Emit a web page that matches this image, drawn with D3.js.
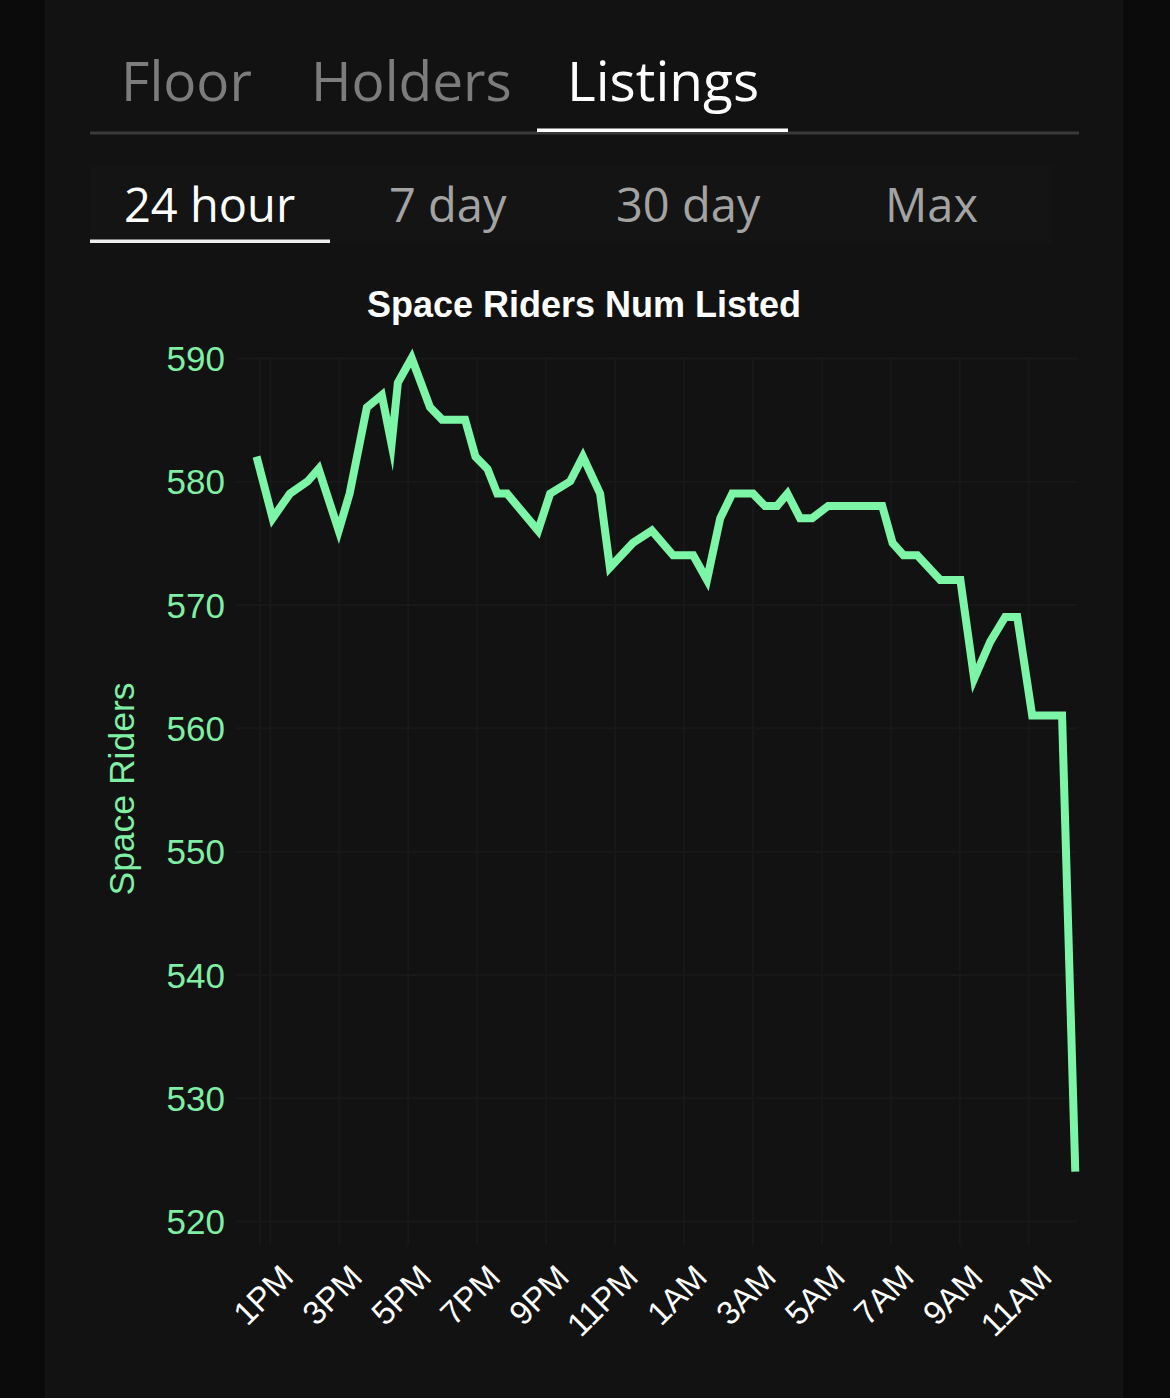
<!DOCTYPE html>
<html>
<head>
<meta charset="utf-8">
<script src="https://cdn.jsdelivr.net/npm/d3@7"></script>
<style>
  html, body { margin: 0; padding: 0; background: #0b0b0b; }
  svg { display: block; }
</style>
</head>
<body>
<div id="chart"></div>
<script>
// ---- data ----
const tabs = ['Floor', 'Holders', 'Listings'];
const ranges = ['24 hour', '7 day', '30 day', 'Max'];
const chartTitle = 'Space Riders Num Listed';
const yTitle = 'Space Riders';

const times = [
    '03-01 12:37', '03-01 13:05', '03-01 13:35', '03-01 14:06', '03-01 14:25',
    '03-01 15:00', '03-01 15:19', '03-01 15:49', '03-01 16:15', '03-01 16:32',
    '03-01 16:43', '03-01 17:07', '03-01 17:39', '03-01 18:00', '03-01 18:40',
    '03-01 18:58', '03-01 19:19', '03-01 19:36', '03-01 19:53', '03-01 20:47',
    '03-01 21:08', '03-01 21:43', '03-01 22:05', '03-01 22:35', '03-01 22:52',
    '03-01 23:32', '03-02 00:05', '03-02 00:42', '03-02 01:17', '03-02 01:41',
    '03-02 02:04', '03-02 02:25', '03-02 03:01', '03-02 03:22', '03-02 03:43',
    '03-02 04:01', '03-02 04:23', '03-02 04:44', '03-02 05:12', '03-02 06:46',
    '03-02 07:04', '03-02 07:23', '03-02 07:47', '03-02 08:27', '03-02 09:02',
    '03-02 09:26', '03-02 09:54', '03-02 10:20', '03-02 10:41', '03-02 11:07',
    '03-02 11:59', '03-02 12:22'
];
const listed = [
    582, 577, 579, 580, 581,
    576, 579, 586, 587, 583,
    588, 590, 586, 585, 585,
    582, 581, 579, 579, 576,
    579, 580, 582, 579, 573,
    575, 576, 574, 574, 572,
    577, 579, 579, 578, 578,
    579, 577, 577, 578, 578,
    575, 574, 574, 572, 572,
    564, 567, 569, 569, 561,
    561, 524
];

const yTicks = [520, 530, 540, 550, 560, 570, 580, 590];
const xTickTimes = [
    '03-01 13:00', '03-01 15:00', '03-01 17:00', '03-01 19:00', '03-01 21:00', '03-01 23:00',
    '03-02 01:00', '03-02 03:00', '03-02 05:00', '03-02 07:00', '03-02 09:00', '03-02 11:00'
];
const xTickLabels = ['1PM', '3PM', '5PM', '7PM', '9PM', '11PM', '1AM', '3AM', '5AM', '7AM', '9AM', '11AM'];
const xDomain = ['03-01 12:43', '03-02 12:25'];

const parseTime = d3.timeParse('%m-%d %H:%M');

class LineChart {
    constructor(_config, _data) {
        this.config = {
            parentElement: _config.parentElement,
            containerWidth: 1170,
            containerHeight: 1398,
            plot: { left: 260, right: 1077, top: 358, bottom: 1221 },
            tickLength: 24,
            lineColor: '#7df5a7',
            axisColor: '#7fefa4',
            gridColor: '#181818'
        };
        this.data = _data;
        this.initVis();
    }

    initVis() {
        let vis = this;
        const cfg = vis.config;

        vis.svg = d3.select(cfg.parentElement)
            .append('svg')
            .attr('width', cfg.containerWidth)
            .attr('height', cfg.containerHeight);

        // dark card
        vis.svg.append('rect')
            .attr('x', 45).attr('y', 0)
            .attr('width', 1078).attr('height', cfg.containerHeight)
            .attr('fill', '#121212');

        // top tabs
        const tabX = [121, 311, 567];
        vis.svg.selectAll('.tab')
            .data(tabs)
            .join('text')
            .attr('class', 'tab')
            .attr('x', (d, i) => tabX[i])
            .attr('y', 101)
            .attr('font-family', '"Open Sans", sans-serif')
            .attr('font-size', 55)
            .attr('fill', d => d === 'Listings' ? '#ffffff' : '#7c7c7c')
            .text(d => d);

        vis.svg.append('rect')
            .attr('x', 90).attr('y', 131.5)
            .attr('width', 989).attr('height', 3)
            .attr('fill', '#3a3a3a');
        vis.svg.append('rect')
            .attr('x', 537).attr('y', 128.5)
            .attr('width', 251).attr('height', 3.5)
            .attr('fill', '#ffffff');

        // range selector
        vis.svg.append('rect')
            .attr('x', 90).attr('y', 166)
            .attr('width', 962).attr('height', 77)
            .attr('fill', '#141414');

        const rangeX = [124, 389, 616, 885];
        vis.svg.selectAll('.range')
            .data(ranges)
            .join('text')
            .attr('class', 'range')
            .attr('x', (d, i) => rangeX[i])
            .attr('y', 222)
            .attr('font-family', '"Open Sans", sans-serif')
            .attr('font-size', 47)
            .attr('fill', d => d === '24 hour' ? '#ffffff' : '#a3a3a3')
            .text(d => d);

        vis.svg.append('rect')
            .attr('x', 90).attr('y', 239.5)
            .attr('width', 240).attr('height', 3.5)
            .attr('fill', '#eeeeee');

        // chart title
        vis.svg.append('text')
            .attr('x', 584)
            .attr('y', 317)
            .attr('text-anchor', 'middle')
            .attr('font-family', '"Liberation Sans", Arial, sans-serif')
            .attr('font-weight', 'bold')
            .attr('font-size', 36)
            .attr('fill', '#ffffff')
            .text(chartTitle);

        // y axis title
        vis.svg.append('text')
            .attr('transform', 'translate(134, 789) rotate(-90)')
            .attr('text-anchor', 'middle')
            .attr('font-family', '"Liberation Sans", Arial, sans-serif')
            .attr('font-size', 35.5)
            .attr('fill', cfg.axisColor)
            .text(yTitle);

        vis.xScale = d3.scaleTime()
            .domain(xDomain.map(parseTime))
            .range([cfg.plot.left, cfg.plot.right]);

        vis.yScale = d3.scaleLinear()
            .domain([520, 590])
            .range([cfg.plot.bottom, cfg.plot.top]);

        vis.xAxisGroup = vis.svg.append('g')
            .attr('class', 'axis x-axis')
            .attr('transform', `translate(0, ${cfg.plot.top})`);

        vis.yAxisGroup = vis.svg.append('g')
            .attr('class', 'axis y-axis')
            .attr('transform', `translate(${cfg.plot.right}, 0)`);

        // left border of the plot
        vis.svg.append('line')
            .attr('x1', cfg.plot.left).attr('x2', cfg.plot.left)
            .attr('y1', cfg.plot.top).attr('y2', cfg.plot.bottom + cfg.tickLength)
            .attr('stroke', cfg.gridColor)
            .attr('stroke-width', 2);

        vis.chart = vis.svg.append('g');
    }

    updateVis() {
        let vis = this;
        vis.points = vis.data.times.map((t, i) => ({ t: parseTime(t), v: vis.data.values[i] }));
        vis.renderVis();
    }

    renderVis() {
        let vis = this;
        const cfg = vis.config;
        const plotW = cfg.plot.right - cfg.plot.left;
        const plotH = cfg.plot.bottom - cfg.plot.top;

        // y axis with grid lines
        const yAxis = d3.axisLeft(vis.yScale)
            .tickValues(yTicks)
            .tickSize(plotW + cfg.tickLength)
            .tickPadding(11)
            .tickFormat(d3.format('d'));

        vis.yAxisGroup.call(yAxis);
        vis.yAxisGroup.select('.domain').remove();
        vis.yAxisGroup.selectAll('.tick line')
            .attr('stroke', cfg.gridColor)
            .attr('stroke-width', 2);
        vis.yAxisGroup.selectAll('.tick text')
            .attr('font-family', '"Liberation Sans", Arial, sans-serif')
            .attr('font-size', 35)
            .attr('fill', cfg.axisColor)
            .attr('dy', '0.36em');

        // x axis with grid lines
        const xTicks = xTickTimes.map(parseTime);
        const xAxis = d3.axisBottom(vis.xScale)
            .tickValues(xTicks)
            .tickSize(plotH + cfg.tickLength)
            .tickFormat((d, i) => xTickLabels[i]);

        vis.xAxisGroup.call(xAxis);
        vis.xAxisGroup.select('.domain').remove();
        vis.xAxisGroup.selectAll('.tick line')
            .attr('stroke', cfg.gridColor)
            .attr('stroke-width', 2);
        vis.xAxisGroup.selectAll('.tick text')
            .attr('x', null)
            .attr('y', null)
            .attr('dy', null)
            .attr('transform', `translate(25, ${1279 - cfg.plot.top}) rotate(-45)`)
            .attr('text-anchor', 'end')
            .attr('font-family', '"Liberation Sans", Arial, sans-serif')
            .attr('font-size', 33)
            .attr('fill', '#ffffff');

        const line = d3.line()
            .x(d => vis.xScale(d.t))
            .y(d => vis.yScale(d.v));

        vis.chart.selectAll('.series')
            .data([vis.points])
            .join('path')
            .attr('class', 'series')
            .attr('d', line)
            .attr('fill', 'none')
            .attr('stroke', cfg.lineColor)
            .attr('stroke-width', 8)
            .attr('stroke-linejoin', 'miter')
            .attr('stroke-miterlimit', 10);
    }
}

const chart = new LineChart({ parentElement: '#chart' }, { times: times, values: listed });
chart.updateVis();
</script>
</body>
</html>
